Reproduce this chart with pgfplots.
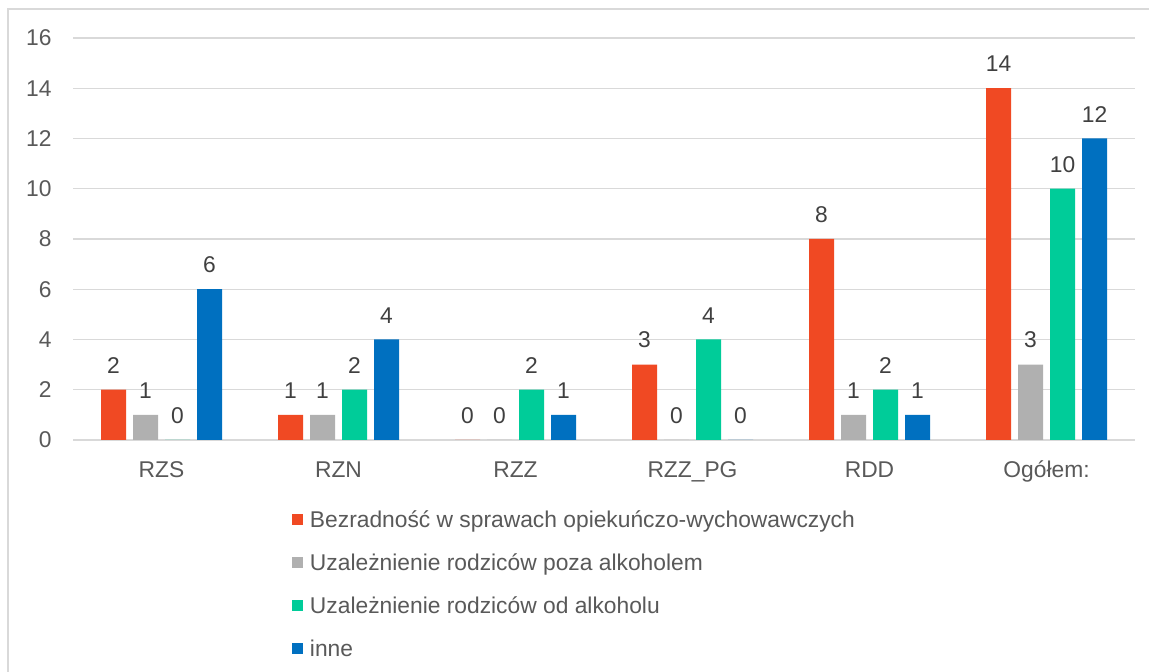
\documentclass[border=0pt]{standalone}
\usepackage{pgfplots}
\pgfplotsset{compat=1.18}
\usepackage{fontspec}
\setmainfont{Liberation Sans}

\definecolor{cRed}{HTML}{F04923}
\definecolor{cGray}{HTML}{B0B0B0}
\definecolor{cGreen}{HTML}{00CC99}
\definecolor{cBlue}{HTML}{0070C0}
\definecolor{cGrid}{HTML}{D9D9D9}
\definecolor{cText}{HTML}{595959}
\definecolor{cLabel}{HTML}{404040}
\definecolor{cFrame}{HTML}{D9D9D9}

\newcommand{\chartfont}{\fontsize{11.4}{13.7}\selectfont}

\begin{document}
\begin{tikzpicture}[x=1pt,y=1pt]
\clip (0,0) rectangle (574.5,336);
\fill[white] (0,0) rectangle (574.5,336);
\draw[cFrame, line width=0.6pt] (4,-20) rectangle (620,331.5);
\begin{axis}[
  at={(36.5pt,116pt)}, anchor=south west,
  scale only axis, width=531pt, height=201pt,
  ybar=3.5pt, bar width=12.5pt,
  xmin=-0.5, xmax=5.5, ymin=0, ymax=16,
  xtick=data,
  xticklabels={RZS, RZN, RZZ, RZZ\_PG, RDD, Ogółem:},
  ytick={0,2,...,16},
  ymajorgrids, grid style={cGrid, line width=0.6pt},
  axis line style={draw=none},
  major tick length=0pt,
  tick label style={font=\chartfont, text=cText},
  /pgf/number format/assume math mode=true,
  yticklabel style={inner sep=0pt, xshift=-10.5pt},
  xticklabel style={inner sep=0pt, yshift=-10.5pt, text height=8.2pt, text depth=2pt},
  nodes near coords,
  every node near coord/.append style={font=\chartfont, text=cLabel, inner sep=0pt, anchor=south, yshift=8pt},
  legend cell align=left,
  legend columns=1,
  legend image code/.code={\fill[#1] (0pt,-1.8pt) rectangle (5.5pt,3.7pt);},
  legend style={at={(rel axis cs:0.2062,-0.362)}, anchor=west,
    draw=none, fill=none, inner sep=0pt, outer sep=0pt,
    row sep=11.2pt, column sep=3.5pt,
    font=\chartfont, text=cText,
    nodes={inner sep=0pt, text height=8.2pt, text depth=2.1pt}},
]
\addplot[fill=cRed, draw=none] coordinates {(0,2) (1,1) (2,0) (3,3) (4,8) (5,14)};
\addplot[fill=cGray, draw=none] coordinates {(0,1) (1,1) (2,0) (3,0) (4,1) (5,3)};
\addplot[fill=cGreen, draw=none] coordinates {(0,0) (1,2) (2,2) (3,4) (4,2) (5,10)};
\addplot[fill=cBlue, draw=none] coordinates {(0,6) (1,4) (2,1) (3,0) (4,1) (5,12)};
\legend{Bezradność w sprawach opiekuńczo-wychowawczych,
        Uzależnienie rodziców poza alkoholem,
        Uzależnienie rodziców od alkoholu,
        inne}
\end{axis}
\end{tikzpicture}
\end{document}
